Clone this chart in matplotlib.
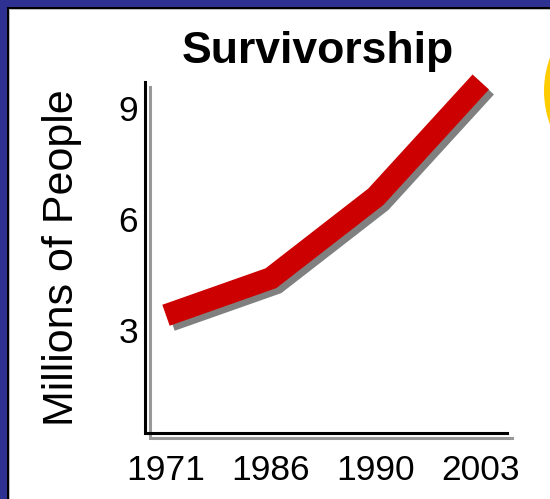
import matplotlib
matplotlib.use("Agg")
import matplotlib.pyplot as plt
import matplotlib.patheffects as pe
from matplotlib.patches import Rectangle, Ellipse

# chart data
years = ['1971', '1986', '1990', '2003']
people = [3.4, 4.4, 6.6, 9.7]   # millions
yticks = [3, 6, 9]

W, H = 550, 499
plt.rcParams['font.family'] = ['Liberation Sans', 'DejaVu Sans']

fig = plt.figure(figsize=(W / 100, H / 100), dpi=100)
fig.patch.set_facecolor('#2E3192')

# slide frame: black rule, thin gray rule, then white (drawn behind the axes)
fig.patches.append(Rectangle((7 / W, -0.1), 2, (H - 7) / H + 0.1,
                             transform=fig.transFigure, facecolor='black', edgecolor='none', zorder=-4))
fig.patches.append(Rectangle((9 / W, -0.1), 2, (H - 9) / H + 0.1,
                             transform=fig.transFigure, facecolor='#BBBBBB', edgecolor='none', zorder=-3))
fig.patches.append(Rectangle((10 / W, -0.1), 2, (H - 10) / H + 0.1,
                             transform=fig.transFigure, facecolor='white', edgecolor='none', zorder=-2))
# yellow disc peeking in at the right edge
fig.patches.append(Ellipse((641 / W, 1 - 91 / H), 2 * 97 / W, 2 * 97 / H,
                           transform=fig.transFigure, facecolor='#FFCC00', edgecolor='none', zorder=-1))

ax = fig.add_axes([145 / W, 1 - 433 / H, (507 - 145) / W, (433 - 82) / H])
ax.set_facecolor('none')
x = list(range(len(years)))

ax.plot(x, people, color='#CC0000', lw=16, solid_capstyle='butt', solid_joinstyle='miter',
        path_effects=[pe.SimpleLineShadow(offset=(3.6, -3.6), shadow_color='#808080', alpha=1),
                      pe.Normal()], clip_on=False, zorder=3)

ax.set_xlim(-0.2, 3.25)
ax.set_ylim(0.22, 9.7)
ax.set_xticks(x)
ax.set_xticklabels(years)
ax.set_yticks(yticks)
ax.tick_params(length=0, labelsize=25.5)
ax.tick_params(axis='x', pad=15)
ax.tick_params(axis='y', pad=5)

for s in ax.spines.values():
    s.set_visible(False)
# L-shaped axis lines with gray drop shadow
ax.plot([0, 0, 1], [1, 0, 0], transform=ax.transAxes, color='black', lw=2.2,
        solid_joinstyle='miter', clip_on=False, zorder=2,
        path_effects=[pe.SimpleLineShadow(offset=(3.6, -3.6), shadow_color='#999999', alpha=1),
                      pe.Normal()])

ax.set_ylabel('Millions of People', fontsize=31, labelpad=26)
ax.set_title('Survivorship', fontsize=32, fontweight='bold', pad=13.7, x=0.478)

fig.savefig('out.png', dpi=100, facecolor=fig.get_facecolor())
